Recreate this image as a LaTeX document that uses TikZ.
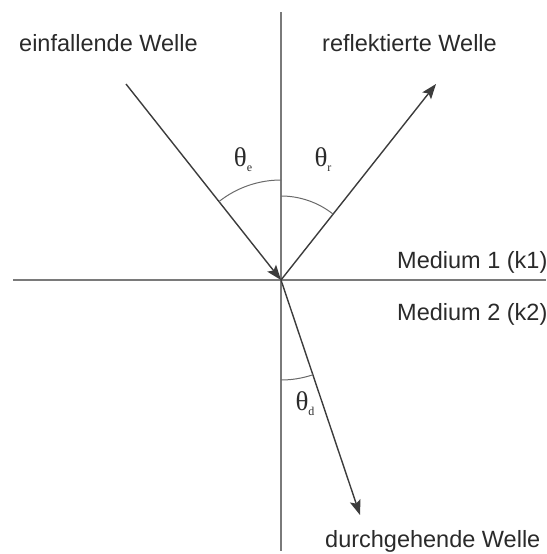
\documentclass[tikz,border=0pt]{standalone}
\usepackage{fontspec}
\setmainfont{Liberation Sans}
\newfontfamily\grk{Liberation Serif}
\usetikzlibrary{arrows.meta}
\definecolor{axisgray}{HTML}{7A7A7A}
\definecolor{raygray}{HTML}{3C3C3C}
\definecolor{arcgray}{HTML}{6A6A6A}
\definecolor{txt}{HTML}{2A2A2A}
\tikzset{
  axisline/.style={draw=axisgray, line width=2pt},
  ray/.style={draw=raygray, line width=1.4pt, -{Stealth[length=15pt,width=11pt,inset=3pt]}},
  anglearc/.style={draw=arcgray, line width=1pt},
  lbl/.style={anchor=base west, inner sep=0pt, text=txt, font=\fontsize{23.5}{28}\selectfont},
  anglbl/.style={inner sep=0pt, text=txt, font=\grk\fontsize{27}{30}\selectfont}
}
\newcommand{\angsub}[1]{\raisebox{-0.4ex}{\fontsize{12}{12}\selectfont #1}}
\begin{document}
\begin{tikzpicture}[x=1pt,y=-1pt]
\useasboundingbox (0,0) rectangle (546,554);
% key points
\coordinate (O) at (281,280);
\coordinate (vtop) at (281,12);
\coordinate (vbot) at (281,551);
\coordinate (hleft) at (13,280);
\coordinate (hright) at (546,280);
\coordinate (inc) at (126,84);
\coordinate (refl) at (436,84);
\coordinate (trans) at (360,515);
% axes
\draw[axisline] (vtop) -- (vbot);
\draw[axisline] (hleft) -- (hright);
% rays
\draw[ray] (inc) -- (O);
\draw[ray] (O) -- (refl);
\draw[ray] (O) -- (trans);
% angle arcs
\draw[anglearc] (O) ++(0,-100) arc[start angle=-90, end angle=-128.3, radius=100];
\draw[anglearc] (O) ++(0,-84) arc[start angle=-90, end angle=-51.7, radius=84];
\draw[anglearc] (O) ++(0,100) arc[start angle=90, end angle=71.4, radius=100];
% angle labels
\node[anglbl] (te) at (243,160) {θ\angsub{e}};
\node[anglbl] (tr) at (323,160) {θ\angsub{r}};
\node[anglbl] (td) at (305,404) {θ\angsub{d}};
% texts
\node[lbl] (einf) at (19,51.5) {einfallende Welle};
\node[lbl] (refw) at (322,51.5) {reflektierte Welle};
\node[lbl] (m1) at (397,268) {Medium 1 (k1)};
\node[lbl] (m2) at (397,320) {Medium 2 (k2)};
\node[lbl] (durch) at (325,547) {durchgehende Welle};
\end{tikzpicture}
\end{document}
